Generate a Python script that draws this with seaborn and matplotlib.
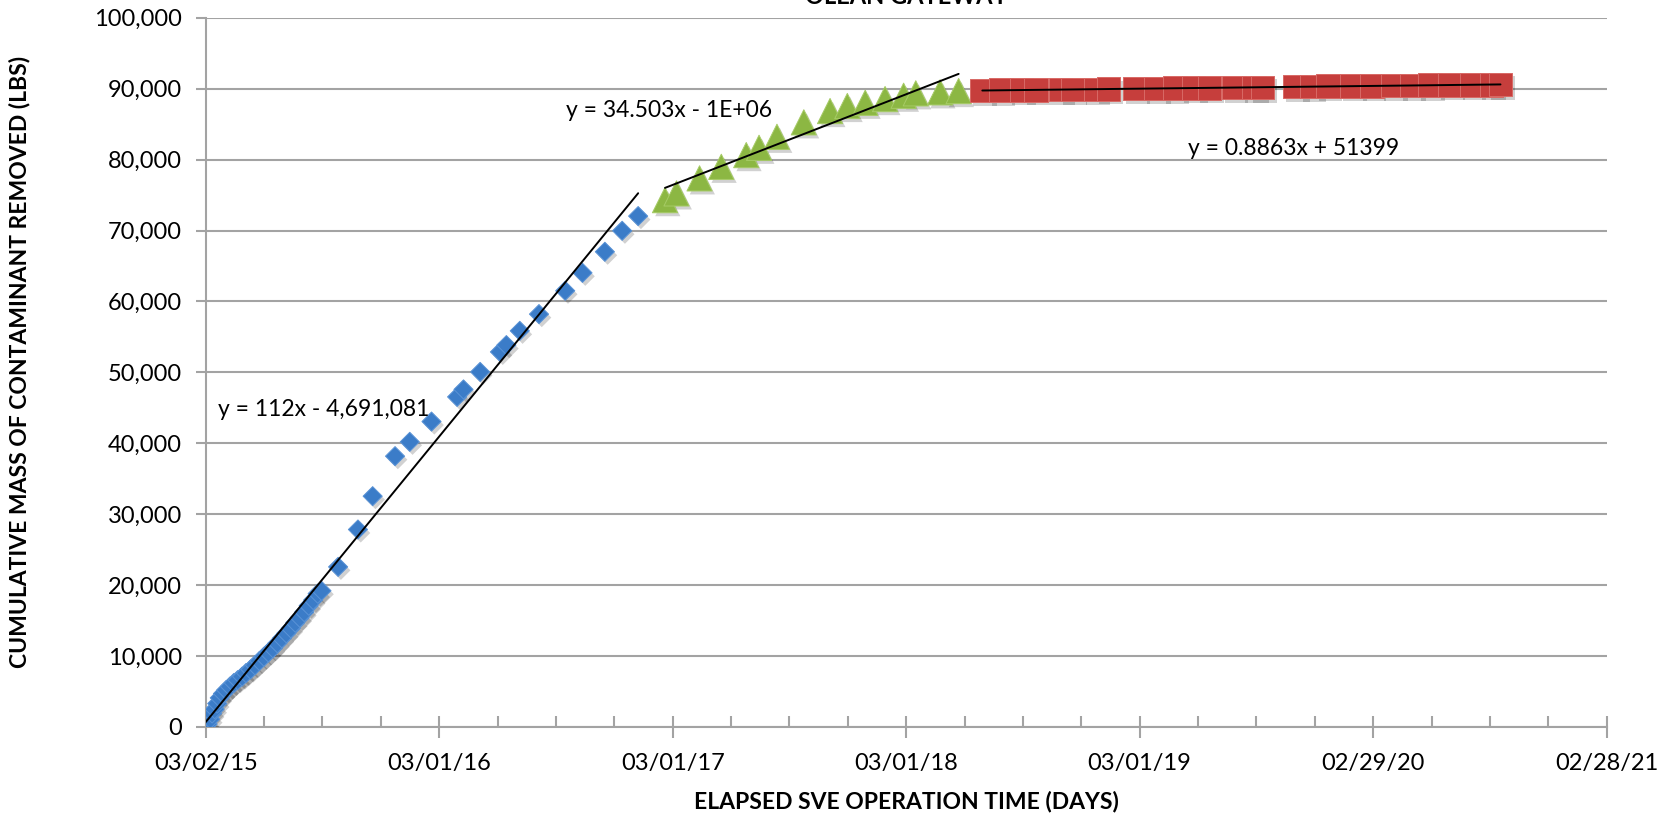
import numpy as np
import pandas as pd
import matplotlib
matplotlib.use("Agg")
import matplotlib.pyplot as plt
import matplotlib.dates as mdates
import matplotlib.patheffects as pe
from matplotlib.ticker import FuncFormatter, FixedLocator
import seaborn as sns

# ---------------------------------------------------------------
# Data: cumulative mass removed by the SVE system, three phases
# (elapsed days counted from system start-up on 03/02/2015)
# ---------------------------------------------------------------
start_date = "2015-03-02"
chart_title = "OLEAN GATEWAY"

phase1_days = [0, 3, 7, 10, 14, 18, 22, 27, 32, 38, 44, 50, 57, 63, 70, 77,
               84, 91, 98, 105, 112, 119, 126, 133, 140, 147, 154, 161, 168,
               175, 181, 207, 238, 261, 296, 319, 353, 393, 403, 429, 460,
               470, 491, 521, 562, 589, 624, 651, 676]
phase1_lbs = [0, 400, 1100, 1900, 2500, 3300, 4100, 4700, 5200, 5700, 6200,
              6600, 7100, 7600, 8100, 8700, 9300, 9900, 10500, 11100, 11800,
              12500, 13200, 13900, 14700, 15400, 16200, 17100, 17900, 18800,
              19200, 22570, 27840, 32540, 38180, 40200, 43060, 46540, 47590,
              50060, 52880, 53840, 55850, 58210, 61500, 64030, 67000, 69960,
              72030]

phase2_days = [718, 736, 772, 806, 845, 865, 893, 935, 976, 1003, 1031, 1062,
               1091, 1110, 1148, 1177]
phase2_lbs = [74280, 75230, 77350, 78980, 80630, 81660, 83210, 85250, 86840,
              87550, 88010, 88530, 89000, 89340, 89480, 89660]

phase3_days = [1214, 1243, 1275, 1298, 1336, 1355, 1391, 1411, 1453, 1486,
               1515, 1544, 1569, 1607, 1639, 1652, 1703, 1729, 1754, 1792,
               1823, 1856, 1885, 1914, 1945, 1979, 2010, 2024]
phase3_lbs = [89750, 89780, 89800, 89830, 89860, 89880, 89900, 89930, 90000,
              90030, 90060, 90090, 90110, 90140, 90160, 90170, 90300, 90320,
              90350, 90380, 90400, 90430, 90460, 90480, 90500, 90530, 90560,
              90570]

trend_labels = ["y = 112x - 4,691,081", "y = 34.503x - 1E+06",
                "y = 0.8863x + 51399"]

x_tick_labels = ["03/02/15", "03/01/16", "03/01/17", "03/01/18",
                 "03/01/19", "02/29/20", "02/28/21"]
y_ticks = [0, 10000, 20000, 30000, 40000, 50000, 60000, 70000, 80000,
           90000, 100000]

x_title = "ELAPSED SVE OPERATION TIME (DAYS)"
y_title = "CUMULATIVE MASS OF CONTAMINANT REMOVED (LBS)"

# ---------------------------------------------------------------
sns.set_theme(style="white")
plt.rcParams["font.family"] = ["Lato", "DejaVu Sans"]

t0 = pd.Timestamp(start_date)


def to_num(days):
    return mdates.date2num(t0 + pd.to_timedelta(np.asarray(days), unit="D"))


phases = [
    (to_num(phase1_days), np.asarray(phase1_lbs, float), "#3b7cc8", "D", 95),
    (to_num(phase2_days), np.asarray(phase2_lbs, float), "#8cb743", "^", 330),
    (to_num(phase3_days), np.asarray(phase3_lbs, float), "#c63e3c", "s", 290),
]
edge_cols = ["#5a93d6", "#a6cb66", "#d86a66"]

fig = plt.figure(figsize=(16.71, 8.17), dpi=100)
ax = fig.add_axes([0.1231, 0.1102, 0.8384, 0.8681])

shadow = [pe.SimplePatchShadow(offset=(2, -2.5), shadow_rgbFace="#000000",
                               alpha=0.18), pe.Normal()]

for (x, y, col, mk, size), ec in zip(phases, edge_cols):
    sns.scatterplot(x=x, y=y, color=col, marker=mk, s=size, edgecolor=ec,
                    linewidth=0.7, ax=ax, zorder=3, legend=False)
    ax.collections[-1].set_path_effects(shadow)

# linear trend line for each phase, over that phase's date range
for x, y, *_ in phases:
    sns.regplot(x=x, y=y, scatter=False, ci=None, truncate=True, ax=ax,
                color="black", line_kws={"lw": 1.4, "zorder": 4})

# axes ranges and ticks
major = mdates.date2num(pd.to_datetime(x_tick_labels, format="%m/%d/%y"))
minor = np.concatenate([np.linspace(a, b, 5)[1:-1]
                        for a, b in zip(major[:-1], major[1:])])
ax.set_xlim(major[0], major[-1])
ax.set_ylim(y_ticks[0], y_ticks[-1])
ax.xaxis.set_major_locator(FixedLocator(major))
ax.xaxis.set_minor_locator(FixedLocator(minor))
ax.set_xticklabels(x_tick_labels)
ax.yaxis.set_major_locator(FixedLocator(y_ticks))
ax.yaxis.set_major_formatter(FuncFormatter(lambda v, p: f"{v:,.0f}"))

grey = "#a3a3a3"
ax.yaxis.grid(True, color=grey, lw=1.5)
ax.xaxis.grid(False)
ax.set_axisbelow(True)
for side in ["top", "right"]:
    ax.spines[side].set_visible(False)
for side in ["left", "bottom"]:
    ax.spines[side].set_color(grey)
    ax.spines[side].set_linewidth(1.5)

ax.tick_params(axis="x", which="major", direction="inout", length=16,
               width=1.5, color=grey, labelsize=17, pad=11,
               labelcolor="#000000", bottom=True)
ax.tick_params(axis="x", which="minor", direction="in", length=8,
               width=1.5, color=grey, bottom=True)
ax.tick_params(axis="y", which="major", direction="out", length=7,
               width=1.5, color=grey, labelsize=17, pad=10,
               labelcolor="#000000", left=True)

ax.set_xlabel("")
ax.set_ylabel("")

# trend line equations
eq_pos = [(0.0091, 0.4483), (0.2572, 0.8685), (0.7011, 0.8163)]
for label, (px, py) in zip(trend_labels, eq_pos):
    ax.text(px, py, label, transform=ax.transAxes, ha="left", va="center",
            fontsize=16.5, color="#000000", zorder=5)

# titles
fig.text(906 / 1671, 1 - 4 / 817, chart_title, ha="center", va="baseline",
         fontsize=17, fontweight="bold", color="#000000")
fig.text(906 / 1671, 1 - 801 / 817, x_title, ha="center", va="center",
         fontsize=16.5, fontweight="bold", color="#000000")
fig.text(20 / 1671, 1 - 362 / 817, y_title, ha="center", va="center",
         rotation=90, fontsize=16.5, fontweight="bold", color="#000000")

fig.savefig("out.png", dpi=100)
